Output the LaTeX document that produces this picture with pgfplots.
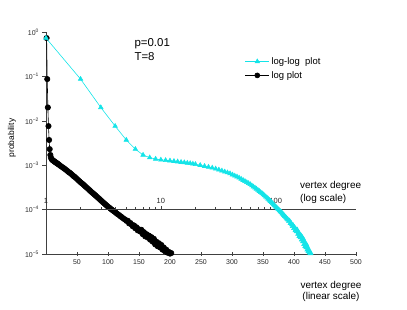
\documentclass[border=0pt]{standalone}
\usepackage{pgfplots}
\pgfplotsset{compat=1.18}
\usepackage{pgfplotstable}
\usepackage{fontspec}
\setmainfont{Liberation Sans}
\definecolor{cyanc}{RGB}{20,228,232}
\pgfplotstableread{
k p
1 7.3e-1
2 8.7e-2
3 2.0e-2
4 7.6e-3
5 3.7e-3
6 2.3e-3
7 1.7e-3
8 1.48e-3
9 1.38e-3
10 1.32e-3
11 1.29e-3
12 1.26e-3
13 1.23e-3
14 1.20e-3
15 1.17e-3
16 1.15e-3
17 1.12e-3
18 1.10e-3
19 1.07e-3
20 1.05e-3
22 1.00e-3
24 9.5e-4
26 9.1e-4
28 8.7e-4
30 8.3e-4
32 7.9e-4
34 7.5e-4
36 7.1e-4
38 6.8e-4
40 6.5e-4
42 6.1e-4
44 5.75e-4
46 5.5e-4
48 5.2e-4
50 4.9e-4
52 4.6e-4
54 4.35e-4
56 4.1e-4
58 3.9e-4
60 3.7e-4
62 3.47e-4
64 3.27e-4
66 3.09e-4
68 2.92e-4
70 2.75e-4
72 2.6e-4
74 2.45e-4
76 2.32e-4
78 2.19e-4
80 2.07e-4
82 1.95e-4
84 1.84e-4
86 1.74e-4
88 1.64e-4
90 1.55e-4
92 1.46e-4
94 1.38e-4
96 1.30e-4
98 1.23e-4
100 1.16e-4
102 1.11e-4
104 1.05e-4
106 1.00e-4
108 9.5e-5
110 9.1e-5
112 8.7e-5
114 8.2e-5
116 7.85e-5
118 7.5e-5
120 7.1e-5
122 6.8e-5
124 6.45e-5
126 6.15e-5
128 5.9e-5
130 5.55e-5
132 5.6e-5
134 4.9e-5
136 5.0e-5
138 4.6e-5
140 4.2e-5
142 4.4e-5
144 3.8e-5
146 4.0e-5
148 3.4e-5
150 3.6e-5
152 3.2e-5
154 3.5e-5
156 2.8e-5
158 3.1e-5
160 2.5e-5
162 2.8e-5
164 2.35e-5
166 2.6e-5
168 2.1e-5
170 2.4e-5
172 1.9e-5
174 2.2e-5
176 1.65e-5
178 1.9e-5
180 1.5e-5
182 1.75e-5
184 1.4e-5
186 1.6e-5
188 1.25e-5
190 1.4e-5
192 1.15e-5
194 1.25e-5
196 1.07e-5
198 1.12e-5
200 1.02e-5
202 1.05e-5
}\degdata
\begin{document}
\begin{tikzpicture}
\useasboundingbox (0,0) rectangle (407bp,310bp);
% linear x axis (log plot)
\begin{axis}[
  at={(46bp,56bp)}, anchor=south west, scale only axis,
  width=310bp, height=222bp,
  xmin=0, xmax=500, ymode=log, ymin=1e-5, ymax=1,
  axis x line=bottom, axis y line=left,
  axis line style={-, black!75, line width=0.6pt},
  xtick={50,100,...,500},
  ytick={1e-5,1e-4,1e-3,1e-2,1e-1,1},
  yticklabels={10\textsuperscript{−5},10\textsuperscript{−4},10\textsuperscript{−3},10\textsuperscript{−2},10\textsuperscript{−1},10\textsuperscript{0}},
  yminorticks=false,
  xtick align=center, ytick align=outside,
  major tick length=3.5bp,
  tick style={black!75, line width=0.5pt},
  tick label style={font=\fontsize{7}{8}\selectfont, black!85},
  /pgf/number format/assume math mode=true,
  clip=false,
]
\addplot[black, line width=0.6pt, mark=*, mark size=2.7bp] table[x=k, y=p] {\degdata};
\end{axis}
% log x axis (log-log plot)
\begin{axis}[
  at={(46bp,100.4bp)}, anchor=south west, scale only axis,
  width=310bp, height=177.6bp,
  xmode=log, ymode=log, xmin=1, xmax=500, ymin=1e-4, ymax=1,
  axis x line=bottom, axis y line=none,
  axis line style={-, black!75, line width=0.6pt},
  xtick={1,10,100}, xticklabels={1,10,100},
  tick align=inside,
  major tick length=3.5bp, minor tick length=2.5bp,
  tick style={black!75, line width=0.5pt},
  xticklabel style={anchor=south, yshift=3bp, font=\fontsize{7.5}{8}\selectfont, black!85},
  clip=false,
  legend style={draw=none, fill=none, at={(0.638,0.875)}, anchor=north west,
    font=\fontsize{9.5}{11}\selectfont, row sep=1.5pt, inner sep=1pt},
  legend cell align=left,
  legend image code/.code={\draw[mark repeat=2,mark phase=2,#1] plot coordinates {(0bp,0bp) (12bp,0bp) (24bp,0bp)};},
]
\addplot[cyanc, line width=0.6pt, mark=triangle*, mark size=2.6bp] table[x=k, y=p] {\degdata};
\addlegendentry{log-log\ \ plot}
\addlegendimage{black, line width=0.6pt, mark=*, mark size=2.5bp}
\addlegendentry{log plot}
\end{axis}
\node[anchor=base west, font=\fontsize{11.5}{13}\selectfont] at (131bp,263bp) {p=0.01};
\node[anchor=base west, font=\fontsize{11.5}{13}\selectfont] at (131bp,249bp) {T=8};
\node[anchor=base west, font=\fontsize{10}{12}\selectfont, inner sep=0pt] at (300bp,121bp) {vertex degree};
\node[anchor=base west, font=\fontsize{10}{12}\selectfont, inner sep=0pt] at (300bp,108bp) {(log scale)};
\node[anchor=base, font=\fontsize{10}{12}\selectfont, inner sep=0pt] at (331bp,22bp) {vertex degree};
\node[anchor=base, font=\fontsize{10}{12}\selectfont, inner sep=0pt] at (331bp,11bp) {(linear scale)};
\node[rotate=90, font=\fontsize{8.5}{10}\selectfont] at (12bp,172bp) {probability};
\end{tikzpicture}
\end{document}
